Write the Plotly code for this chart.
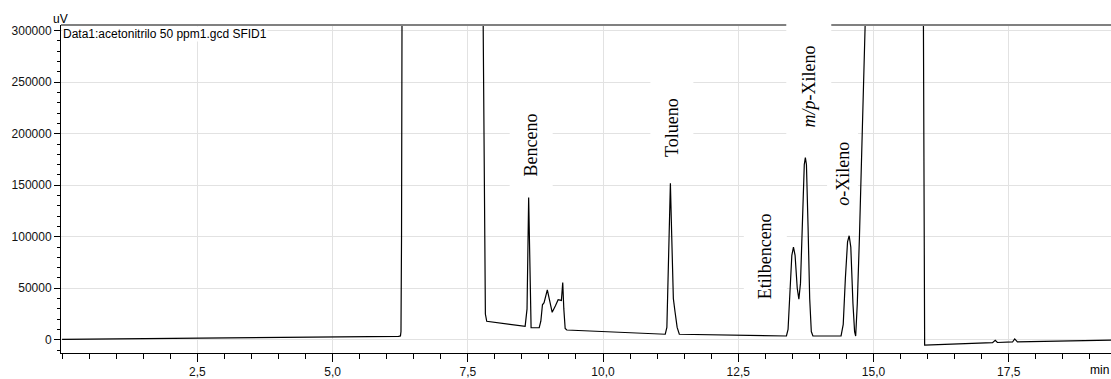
import plotly.graph_objects as go

# Chromatogram: retention time (min) vs detector signal (uV)
time_min = [
    0.00, 2.50, 5.00, 6.22, 6.255, 6.265, 6.275, 6.285, 6.30,
    7.70, 7.77, 7.785, 7.805, 7.825, 7.85, 8.10, 8.40, 8.56,
    8.595, 8.615, 8.625, 8.635, 8.655, 8.67, 8.82, 8.85, 8.88, 8.91, 8.97,
    9.00, 9.06, 9.12, 9.17, 9.23, 9.255, 9.275, 9.30, 9.33,
    10.00, 11.00, 11.15, 11.18, 11.21, 11.245, 11.27, 11.30, 11.33, 11.37, 11.41,
    12.50, 13.39, 13.42, 13.45, 13.49, 13.52, 13.55, 13.59, 13.62, 13.65, 13.69,
    13.72, 13.74, 13.76, 13.79, 13.82, 13.85, 13.88,
    14.40, 14.44, 14.48, 14.52, 14.55, 14.58, 14.62, 14.65, 14.67,
    14.70, 14.74, 14.79, 14.845, 14.90, 15.00, 15.88, 15.915, 15.93, 15.945,
    17.20, 17.25, 17.29, 17.57, 17.61, 17.66, 19.39,
]
signal_uv = [
    500, 1500, 2500, 3400, 3800, 8000, 100000, 305000, 700000,
    900000, 600000, 300000, 90000, 25000, 18000, 16500, 14500, 13000,
    30000, 120000, 138000, 110000, 20000, 11700, 11700, 18000, 34000, 36000, 48500,
    40000, 26700, 33000, 38900, 38200, 55500, 30000, 11000, 9500,
    8000, 5800, 5400, 12000, 90000, 152000, 100000, 40000, 27500, 12000, 5400,
    4200, 3700, 10000, 40000, 82000, 90000, 82000, 50000, 39500, 55000, 130000,
    170000, 176800, 170000, 110000, 40000, 8000, 3700,
    3800, 15000, 60000, 95000, 101000, 90000, 35000, 8000, 3700,
    35000, 100000, 195000, 305000, 500000, 900000, 900000, 305000, 100000, -5200,
    -2700, -400, -2600, -2100, 900, -2000, -400,
]

# Peak identification labels and where they sit
peak_names = ["Benceno", "Tolueno", "Etilbenceno",
              "<i>m/p</i>-Xileno", "<i>o</i>-Xileno"]
peak_label_x = [8.68, 11.27, 13.00, 13.80, 14.43]
peak_label_y = [188600, 205700, 81300, 245500, 160800]
# white label boxes: length along the text, thickness across it (px)
label_box_len = [100, 100, 124, 134, 104]
label_box_thick = [42, 42, 42, 44, 30]

x_ticks = [2.5, 5.0, 7.5, 10.0, 12.5, 15.0, 17.5]
x_tick_text = ["2,5", "5,0", "7,5", "10,0", "12,5", "15,0", "17,5"]
y_ticks = [0, 50000, 100000, 150000, 200000, 250000, 300000]
y_tick_text = ["0", "50000", "100000", "150000", "200000", "250000", "300000"]

SANS = "Liberation Sans, Arial, sans-serif"
SERIF = "Liberation Serif, Times New Roman, serif"

fig = go.Figure()
fig.add_trace(go.Scatter(
    x=time_min, y=signal_uv, mode="lines",
    line=dict(color="black", width=1.2),
    showlegend=False, hoverinfo="x+y",
))

axis_common = dict(
    showline=True, linecolor="black", linewidth=1,
    ticks="outside", tickcolor="black",
    showgrid=True, gridcolor="#e2e2e2", gridwidth=1,
    zeroline=False,
    tickfont=dict(family=SANS, size=12, color="#111"),
)

fig.update_xaxes(
    range=[-0.02, 19.39], tickmode="array",
    tickvals=x_ticks, ticktext=x_tick_text, ticklen=8,
    minor=dict(dtick=0.5, tick0=0, ticks="outside", ticklen=5,
               tickcolor="black", showgrid=False),
    **axis_common,
)
fig.update_yaxes(
    range=[-12800, 305500], tickmode="array",
    tickvals=y_ticks, ticktext=y_tick_text, ticklen=6,
    minor=dict(dtick=10000, tick0=0, ticks="outside", ticklen=3,
               tickcolor="black", showgrid=False),
    **axis_common,
)

# grey frame line along the top of the plotting area
fig.add_shape(type="line", xref="paper", yref="paper",
              x0=0, x1=1, y0=1, y1=1,
              line=dict(color="#808080", width=2), layer="above")

for name, px, py, blen, bthick in zip(peak_names, peak_label_x, peak_label_y,
                                      label_box_len, label_box_thick):
    fig.add_annotation(
        x=px, y=py, xref="x", yref="y", text=name, textangle=-90,
        showarrow=False, bgcolor="white", borderpad=0,
        width=blen, height=bthick, align="center", valign="middle",
        font=dict(family=SERIF, size=18, color="black"),
    )

fig.add_annotation(
    x=0, y=1, xref="paper", yref="paper", xanchor="left", yanchor="top",
    text="Data1:acetonitrilo 50 ppm1.gcd SFID1", showarrow=False,
    bgcolor="white", borderpad=0, xshift=1, yshift=-1,
    font=dict(family=SANS, size=12, color="black"),
)
fig.add_annotation(
    x=0, y=1, xref="paper", yref="paper", xanchor="center", yanchor="middle",
    text="uV", showarrow=False, yshift=6, xshift=-1,
    font=dict(family=SANS, size=12, color="black"),
)
fig.add_annotation(
    x=1, y=0, xref="paper", yref="paper", xanchor="right", yanchor="top",
    text="min", showarrow=False, yshift=-8,
    font=dict(family=SANS, size=12, color="black"),
)

fig.update_layout(
    width=1111, height=379,
    margin=dict(l=61, r=0, t=25, b=22),
    paper_bgcolor="white", plot_bgcolor="white",
)

fig.write_html("out.html")
